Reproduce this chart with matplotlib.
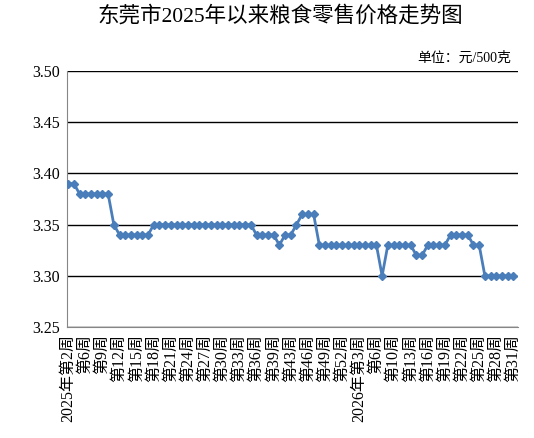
import matplotlib
matplotlib.use("Agg")
import matplotlib.pyplot as plt

plt.rcParams['font.family'] = ['Liberation Serif', 'Noto Sans CJK SC', 'DejaVu Sans']

# weekly retail price, yuan / 500 g (2025 week 2 -> 2026 week 31)
prices = [
    3.39, 3.39, 3.38, 3.38, 3.38, 3.38, 3.38, 3.38, 3.35, 3.34,
    3.34, 3.34, 3.34, 3.34, 3.34, 3.35, 3.35, 3.35, 3.35, 3.35,
    3.35, 3.35, 3.35, 3.35, 3.35, 3.35, 3.35, 3.35, 3.35, 3.35,
    3.35, 3.35, 3.35, 3.34, 3.34, 3.34, 3.34, 3.33, 3.34, 3.34,
    3.35, 3.36, 3.36, 3.36, 3.33, 3.33, 3.33, 3.33, 3.33, 3.33,
    3.33, 3.33, 3.33, 3.33, 3.33, 3.30, 3.33, 3.33, 3.33, 3.33,
    3.33, 3.32, 3.32, 3.33, 3.33, 3.33, 3.33, 3.34, 3.34, 3.34,
    3.34, 3.33, 3.33, 3.30, 3.30, 3.30, 3.30, 3.30, 3.30,
]

# labels shown on every third point
tick_labels = [
    "2025年第2周", "第6周", "第9周", "第12周", "第15周", "第18周", "第21周",
    "第24周", "第27周", "第30周", "第33周", "第36周", "第39周", "第43周",
    "第46周", "第49周", "第52周", "2026年第3周", "第6周", "第10周", "第13周",
    "第16周", "第19周", "第22周", "第25周", "第28周", "第31周",
]

x = list(range(len(prices)))

fig = plt.figure(figsize=(5.34, 4.38), dpi=100)
ax = fig.add_axes([0.1255, 0.2534, 0.8445, 0.5846])

ax.plot(x, prices, color='#4A7EBB', linewidth=2, marker='D', markersize=4,
        markerfacecolor='#4A7EBB', markeredgecolor='#4A7EBB', zorder=3)

ax.set_ylim(3.25, 3.50)
ax.set_yticks([3.25, 3.30, 3.35, 3.40, 3.45, 3.50])
ax.set_yticklabels(["%.2f" % v for v in ax.get_yticks()], fontsize=11.5)
ax.set_xlim(-0.2, 78.8)
ax.set_xticks(x[::3])
ax.set_xticklabels(tick_labels, rotation=90, fontsize=11.5)

ax.yaxis.grid(True, color='black', linewidth=1)
ax.set_axisbelow(True)
for s in ['top', 'right']:
    ax.spines[s].set_visible(False)
for s in ['left', 'bottom']:
    ax.spines[s].set_color('#868686')
ax.tick_params(axis='both', length=0, pad=5)

fig.text(0.525, 0.962, "东莞市2025年以来粮食零售价格走势图", ha='center', va='center',
         fontsize=15.5)
fig.text(0.958, 0.868, "单位：元/500克", ha='right', va='center', fontsize=10)

fig.savefig("out.png", dpi=100)
